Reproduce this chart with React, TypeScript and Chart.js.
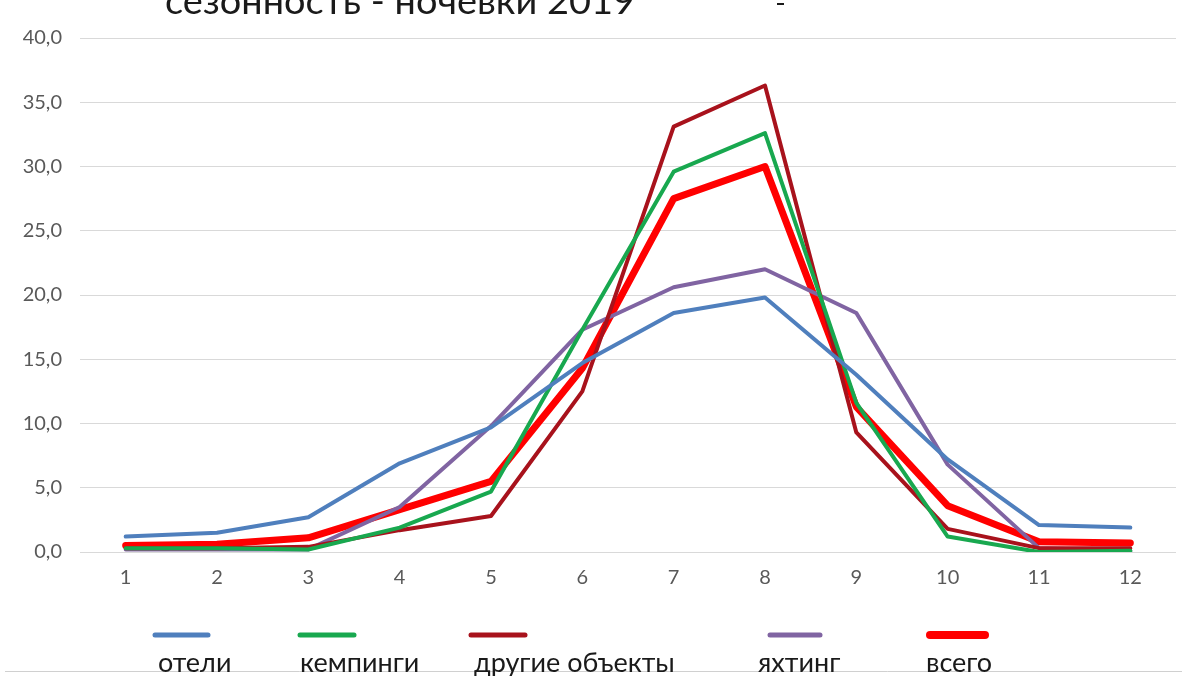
import React, { useEffect, useRef } from "react";
import { Chart, registerables } from "chart.js";

Chart.register(...registerables);

const months = ["1", "2", "3", "4", "5", "6", "7", "8", "9", "10", "11", "12"];
const hotels = [1.2, 1.5, 2.7, 6.9, 9.7, 14.7, 18.6, 19.8, 13.8, 7.2, 2.1, 1.9];
const camping = [0.3, 0.3, 0.2, 1.9, 4.7, 17.3, 29.6, 32.6, 11.6, 1.2, 0.0, 0.1];
const other = [0.3, 0.3, 0.4, 1.7, 2.8, 12.5, 33.1, 36.3, 9.3, 1.8, 0.3, 0.3];
const yachting = [0.2, 0.2, 0.2, 3.5, 9.8, 17.3, 20.6, 22.0, 18.6, 6.8, 0.3, 0.1];
const total = [0.5, 0.6, 1.1, 3.3, 5.5, 14.3, 27.5, 30.0, 11.3, 3.6, 0.8, 0.7];
const seriesNames = ["отели", "кемпинги", "другие объекты", "яхтинг", "всего"];
const titleText = "сезонность - ночевки 2019";

const colors = ["#4f7fbd", "#18a84f", "#a8121c", "#8064a2", "#ff0000"];
const widths = [4, 4, 4, 4, 7];

// legend layout (style only)
const legendLineX = [[155, 208], [300, 354], [471, 525], [770, 820], [930, 985]];
const legendTextX = [158, 300, 474, 758, 926];

const overlayPlugin = {
  id: "overlay",
  afterDraw(chart: any) {
    const ctx = chart.ctx;
    ctx.save();
    // cut-off title
    ctx.fillStyle = "#1a1a1a";
    ctx.textBaseline = "alphabetic";
    ctx.textAlign = "left";
    ctx.font = "36px Lato";
    const w = ctx.measureText(titleText).width;
    ctx.save();
    ctx.translate(165, 14);
    ctx.scale(470 / w, 1);
    ctx.fillText(titleText, 0, 0);
    ctx.restore();
    ctx.fillRect(777, 3, 7, 2);
    // bottom rule
    ctx.strokeStyle = "#d0d0d0";
    ctx.lineWidth = 1;
    ctx.beginPath();
    ctx.moveTo(5, 671.5);
    ctx.lineTo(1182, 671.5);
    ctx.stroke();
    // legend
    seriesNames.forEach((name, i) => {
      ctx.strokeStyle = colors[i];
      ctx.lineWidth = widths[i] + 1;
      ctx.lineCap = "round";
      ctx.beginPath();
      ctx.moveTo(legendLineX[i][0], 635);
      ctx.lineTo(legendLineX[i][1], 635);
      ctx.stroke();
      ctx.fillStyle = "#1a1a1a";
      ctx.font = "27px Lato";
      ctx.fillText(name, legendTextX[i], 672);
    });
    ctx.restore();
  },
};

export default function App() {
  const canvasRef = useRef<HTMLCanvasElement | null>(null);

  useEffect(() => {
    const seriesData = [hotels, camping, other, yachting, total];
    const chart = new Chart(canvasRef.current as HTMLCanvasElement, {
      type: "line",
      data: {
        labels: months,
        datasets: seriesNames.map((name, i) => ({
          label: name,
          data: seriesData[i],
          borderColor: colors[i],
          backgroundColor: colors[i],
          borderWidth: widths[i],
          pointRadius: 0,
          tension: 0,
          borderJoinStyle: "round" as const,
          borderCapStyle: "round" as const,
        })),
      },
      options: {
        animation: false,
        responsive: true,
        maintainAspectRatio: false,
        layout: { padding: { top: 38, right: 6, bottom: 0, left: 0 } },
        plugins: {
          legend: { display: false },
          title: { display: false },
          tooltip: { enabled: false },
        },
        scales: {
          x: {
            type: "category",
            offset: true,
            grid: { display: false, drawTicks: false },
            border: { display: false },
            ticks: {
              color: "#595959",
              font: { family: "Lato", size: 20 },
              padding: 14,
              autoSkip: false,
              maxRotation: 0,
            },
            afterFit: (s: any) => {
              s.height = 124;
            },
          },
          y: {
            min: 0,
            max: 40,
            grid: { color: "#d9d9d9", lineWidth: 1, drawTicks: false },
            border: { display: false },
            ticks: {
              stepSize: 5,
              color: "#595959",
              font: { family: "Lato", size: 20 },
              padding: 18,
              callback: (v: any) => Number(v).toFixed(1).replace(".", ","),
            },
            afterFit: (s: any) => {
              s.width = 80;
            },
          },
        },
      },
      plugins: [overlayPlugin],
    });
    return () => chart.destroy();
  }, []);

  return (
    <div
      style={{
        position: "fixed",
        left: 0,
        top: 0,
        width: 1182,
        height: 676,
        background: "#ffffff",
      }}
    >
      <canvas ref={canvasRef} />
    </div>
  );
}
